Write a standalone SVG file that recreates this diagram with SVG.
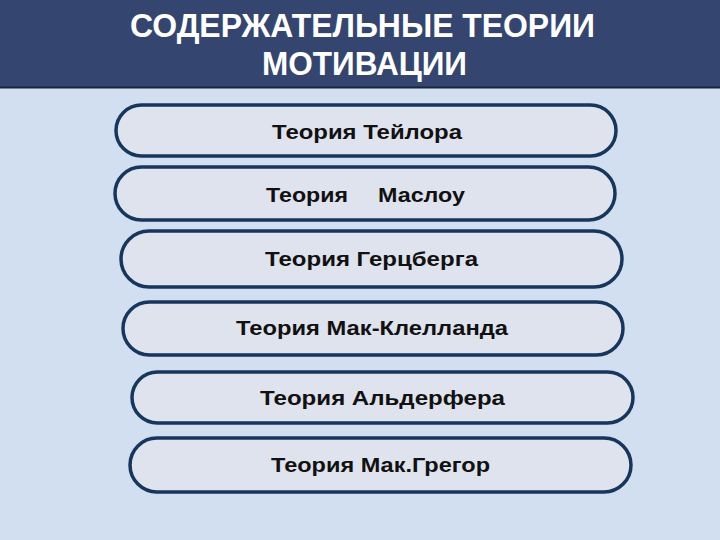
<svg xmlns="http://www.w3.org/2000/svg" width="720" height="540" viewBox="0 0 720 540">
<style>
.bg{fill:#d1dff0}
.hdr{fill:#34466f}
.box{fill:#dfe3ee;stroke:#17365e;stroke-width:3.5}
.t{font-family:"Liberation Sans",Arial,sans-serif;font-size:21px;font-weight:bold;fill:#111;text-anchor:start}
.h{font-family:"Liberation Sans",Arial,sans-serif;font-weight:bold;font-size:33px;fill:#fff;text-anchor:start}
</style>
<rect class="bg" x="0" y="0" width="720" height="540"/>
<g id="header">
<rect class="hdr" x="0" y="0" width="720" height="87"/>
<line x1="0" y1="87.5" x2="720" y2="87.5" stroke="#1a2440" stroke-width="2"/>
<text class="h" x="130" y="37" textLength="465" lengthAdjust="spacingAndGlyphs">СОДЕРЖАТЕЛЬНЫЕ ТЕОРИИ</text>
<text class="h" x="262" y="75" textLength="205" lengthAdjust="spacingAndGlyphs">МОТИВАЦИИ</text>
</g>
<g id="n1"><rect class="box" x="116" y="105" width="500" height="51" rx="25.5"/><text class="t" x="272" y="139" textLength="190" lengthAdjust="spacingAndGlyphs">Теория Тейлора</text></g>
<g id="n2"><rect class="box" x="115" y="167" width="500" height="53" rx="26.5"/><text class="t" x="266" y="202" textLength="82" lengthAdjust="spacingAndGlyphs">Теория</text><text class="t" x="378" y="202" textLength="87" lengthAdjust="spacingAndGlyphs">Маслоу</text></g>
<g id="n3"><rect class="box" x="121" y="231" width="501" height="56" rx="28"/><text class="t" x="265" y="266" textLength="213" lengthAdjust="spacingAndGlyphs">Теория Герцберга</text></g>
<g id="n4"><rect class="box" x="123" y="302" width="500" height="53" rx="26.5"/><text class="t" x="236" y="335" textLength="272" lengthAdjust="spacingAndGlyphs">Теория Мак-Клелланда</text></g>
<g id="n5"><rect class="box" x="132" y="372" width="501" height="51" rx="25.5"/><text class="t" x="260" y="405" textLength="245" lengthAdjust="spacingAndGlyphs">Теория Альдерфера</text></g>
<g id="n6"><rect class="box" x="130" y="438" width="501" height="54" rx="27"/><text class="t" x="271" y="472" textLength="219" lengthAdjust="spacingAndGlyphs">Теория Мак.Грегор</text></g>
<g id="connectors"></g>
</svg>
